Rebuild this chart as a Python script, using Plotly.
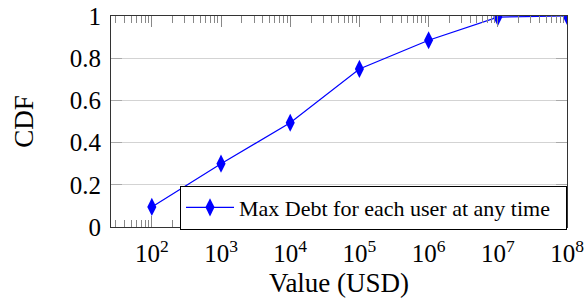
import plotly.graph_objects as go

x_values = [1e2, 1e3, 1e4, 1e5, 1e6, 1e7, 1e8]
cdf_values = [0.095, 0.30, 0.494, 0.749, 0.885, 0.995, 1.0]
x_tickvals = [1e2, 1e3, 1e4, 1e5, 1e6, 1e7, 1e8]
x_ticktext = ["10<sup>2</sup>", "10<sup>3</sup>", "10<sup>4</sup>", "10<sup>5</sup>",
              "10<sup>6</sup>", "10<sup>7</sup>", "10<sup>8</sup>"]
y_tickvals = [0, 0.2, 0.4, 0.6, 0.8, 1]
y_ticktext = ["0", "0.2", "0.4", "0.6", "0.8", "1"]
series_name = "Max Debt for each user at any time"

FONT = "Liberation Serif, Times New Roman, serif"

fig = go.Figure()
fig.add_trace(go.Scatter(
    x=x_values, y=cdf_values, mode="lines+markers",
    name=series_name + "\u00a0\u00a0",
    line=dict(color="#0000ff", width=1.2),
    marker=dict(symbol="diamond-tall", size=13, color="#0000ff"),
))

fig.update_layout(
    width=584, height=298,
    margin=dict(l=111, r=17, t=16, b=71, autoexpand=False),
    paper_bgcolor="white", plot_bgcolor="white",
    font=dict(family=FONT, color="black", size=25),
    showlegend=True,
    legend=dict(x=1, y=-0.012, xanchor="right", yanchor="bottom",
                bordercolor="black", borderwidth=1, bgcolor="white",
                font=dict(family=FONT, size=22), itemwidth=48,
                tracegroupgap=0),
    xaxis=dict(
        type="log", range=[1.41, 8], automargin=False,
        tickvals=x_tickvals, ticktext=x_ticktext,
        ticks="inside", ticklen=11, tickcolor="#888888",
        showline=True, linecolor="#333333", linewidth=1, mirror="ticks",
        showgrid=False, zeroline=False, ticklabeloverflow="allow",
        minor=dict(ticks="inside", ticklen=7, tickcolor="#888888", dtick="D1", showgrid=False),
        title=dict(text="Value (USD)", font=dict(family=FONT, size=27), standoff=10),
        tickfont=dict(family=FONT, size=25),
        ticklabelstandoff=4,
    ),
    yaxis=dict(
        range=[0, 1], automargin=False,
        tickvals=y_tickvals, ticktext=y_ticktext,
        ticks="inside", ticklen=11, tickcolor="#aaaaaa",
        showline=True, linecolor="#333333", linewidth=1, mirror="ticks",
        showgrid=True, gridcolor="#d3d3d3", gridwidth=1, zeroline=False,
        ticklabeloverflow="allow",
        title=dict(text="CDF", font=dict(family=FONT, size=27), standoff=28),
        tickfont=dict(family=FONT, size=25),
        ticklabelstandoff=4,
    ),
)

fig.write_html("out.html", config={"displayModeBar": False},
               post_script="document.body.style.margin='0';")
